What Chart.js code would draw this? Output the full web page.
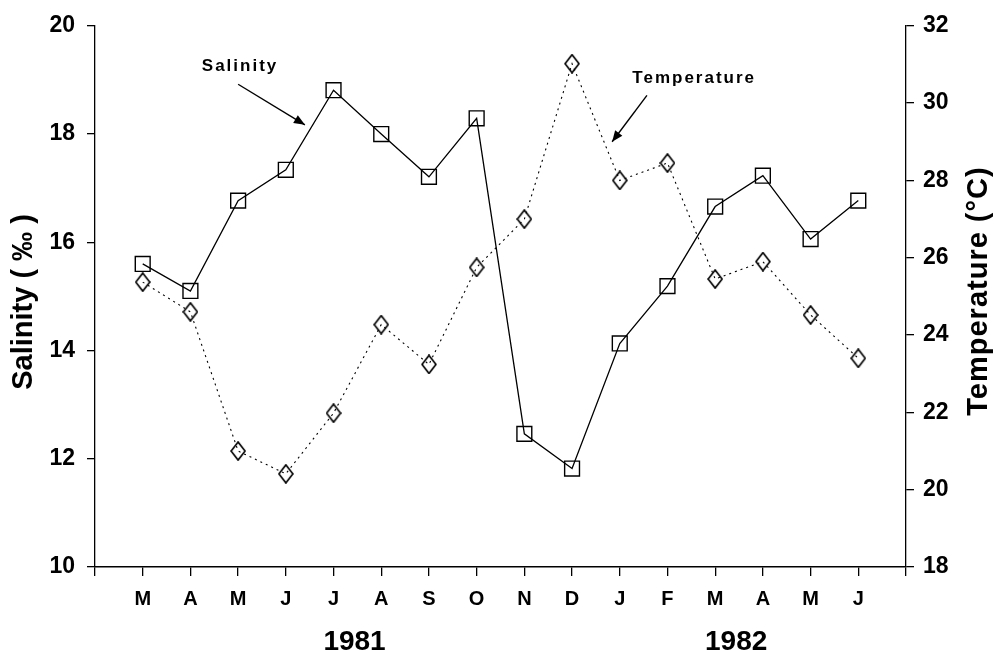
<!DOCTYPE html>
<html>
<head>
<meta charset="utf-8">
<script src="https://cdn.jsdelivr.net/npm/chart.js@4.4.1/dist/chart.umd.min.js"></script>
<style>
  html, body { margin: 0; padding: 0; background: #fff; }
  #wrap { width: 994px; height: 650px; }
</style>
</head>
<body>
<div id="wrap"><canvas id="c" width="994" height="650"></canvas></div>
<script>
// Monthly observations, March 1981 - June 1982
const months = ['M','A','M','J','J','A','S','O','N','D','J','F','M','A','M','J'];
const salinity = [15.6, 15.1, 16.77, 17.34, 18.81, 18.0, 17.21, 18.29, 12.46, 11.82, 14.13, 15.19, 16.66, 17.23, 16.06, 16.77];
const temperature = [25.37, 24.6, 21.0, 20.41, 21.98, 24.27, 23.24, 25.75, 27.0, 31.02, 28.0, 28.45, 25.45, 25.9, 24.52, 23.4];
const salinityTicks = [10, 12, 14, 16, 18, 20];
const temperatureTicks = [18, 20, 22, 24, 26, 28, 30, 32];
const yearLabels = ['1981', '1982'];
const yearPositions = [5.44, 13.44];

const FONT = '"Liberation Sans", Arial, sans-serif';
Chart.defaults.font.family = FONT;
Chart.defaults.font.weight = 'bold';
Chart.defaults.color = '#000';

// Tall open diamond marker
function makeDiamond(w, h, lw) {
  const cv = document.createElement('canvas');
  cv.width = w; cv.height = h;
  const g = cv.getContext('2d');
  g.strokeStyle = '#000';
  g.lineWidth = lw;
  g.beginPath();
  g.moveTo(w / 2, 1);
  g.lineTo(w - 1, h / 2);
  g.lineTo(w / 2, h - 1);
  g.lineTo(1, h / 2);
  g.closePath();
  g.stroke();
  return cv;
}
const diamond = makeDiamond(16, 20, 1.7);

function arrow(ctx, x1, y1, x2, y2) {
  ctx.lineWidth = 1.4;
  ctx.beginPath(); ctx.moveTo(x1, y1); ctx.lineTo(x2, y2); ctx.stroke();
  const a = Math.atan2(y2 - y1, x2 - x1), L = 11, W = 4.5;
  ctx.beginPath();
  ctx.moveTo(x2, y2);
  ctx.lineTo(x2 - L * Math.cos(a) + W * Math.sin(a), y2 - L * Math.sin(a) - W * Math.cos(a));
  ctx.lineTo(x2 - L * Math.cos(a) - W * Math.sin(a), y2 - L * Math.sin(a) + W * Math.cos(a));
  ctx.closePath(); ctx.fill();
}

// Axis titles, year labels and the series call-outs
const decor = {
  id: 'decor',
  afterDraw(chart) {
    const { ctx, scales } = chart;
    const x = scales.x, ys = scales.ySal, yt = scales.yTemp;
    ctx.save();
    ctx.fillStyle = '#000';
    ctx.strokeStyle = '#000';
    ctx.textAlign = 'center';
    ctx.textBaseline = 'middle';

    ctx.font = 'bold 29px ' + FONT;
    ctx.save(); ctx.translate(24, 302); ctx.rotate(-Math.PI / 2);
    ctx.fillText('Salinity ( \u2030 )', 0, 0); ctx.restore();
    ctx.save(); ctx.translate(979, 291); ctx.rotate(-Math.PI / 2);
    ctx.letterSpacing = '1px';
    ctx.fillText('Temperature (\u00B0C)', 0, 0); ctx.restore();
    ctx.letterSpacing = '0px';

    ctx.font = 'bold 28px ' + FONT;
    ctx.textBaseline = 'alphabetic';
    yearLabels.forEach((t, i) => ctx.fillText(t, x.getPixelForValue(yearPositions[i]), 650));

    ctx.font = 'bold 17px ' + FONT;
    ctx.textBaseline = 'middle';
    ctx.letterSpacing = '2px';
    ctx.fillText('Salinity', x.getPixelForValue(3.04), ys.getPixelForValue(19.25));
    ctx.fillText('Temperature', x.getPixelForValue(12.56), yt.getPixelForValue(30.64));
    ctx.letterSpacing = '0px';
    arrow(ctx, x.getPixelForValue(3.0), ys.getPixelForValue(18.92), x.getPixelForValue(4.4), ys.getPixelForValue(18.17));
    arrow(ctx, x.getPixelForValue(11.57), yt.getPixelForValue(30.2), x.getPixelForValue(10.84), yt.getPixelForValue(29.0));
    ctx.restore();
  }
};

const axisGrid = { drawOnChartArea: false, color: '#000', lineWidth: 1.3 };

new Chart(document.getElementById('c'), {
  type: 'line',
  data: {
    datasets: [
      {
        label: 'Salinity',
        data: months.map((m, i) => ({ x: i + 1, y: salinity[i] })),
        yAxisID: 'ySal',
        borderColor: '#000',
        borderWidth: 1.3,
        tension: 0,
        pointStyle: 'rect',
        pointRadius: 10.5,
        pointBorderWidth: 1.4,
        pointBorderColor: '#000',
        pointBackgroundColor: 'rgba(0,0,0,0)'
      },
      {
        label: 'Temperature',
        data: months.map((m, i) => ({ x: i + 1, y: temperature[i] })),
        yAxisID: 'yTemp',
        borderColor: '#000',
        borderWidth: 1.1,
        borderDash: [2, 4],
        tension: 0,
        pointStyle: diamond,
        pointRadius: 10,
        pointBorderColor: '#000',
        pointBackgroundColor: 'rgba(0,0,0,0)'
      }
    ]
  },
  options: {
    responsive: false,
    animation: false,
    devicePixelRatio: 1,
    layout: { padding: { top: 22, left: 0, right: 0, bottom: 0 } },
    plugins: { legend: { display: false }, tooltip: { enabled: false } },
    scales: {
      x: {
        type: 'linear', position: 'bottom', min: 0, max: 17,
        grid: Object.assign({ tickLength: 9 }, axisGrid),
        border: { color: '#000', width: 1.6 },
        afterBuildTicks: s => { s.ticks = months.map((m, i) => ({ value: i + 1 })); s.ticks.unshift({ value: 0 }); s.ticks.push({ value: months.length + 1 }); },
        afterFit: s => { s.height = 83; },
        ticks: {
          autoSkip: false, maxRotation: 0, padding: 11,
          font: { size: 20, weight: 'bold' },
          callback: v => months[v - 1] || ''
        }
      },
      ySal: {
        type: 'linear', position: 'left', min: 10, max: 20,
        grid: Object.assign({ tickLength: 8 }, axisGrid),
        border: { color: '#000', width: 1.3 },
        afterBuildTicks: s => { s.ticks = salinityTicks.map(v => ({ value: v })); },
        afterFit: s => { s.width = 95; },
        ticks: { padding: 12, font: { size: 23, weight: 'bold' } }
      },
      yTemp: {
        type: 'linear', position: 'right', min: 18, max: 32,
        grid: Object.assign({ tickLength: 8 }, axisGrid),
        border: { color: '#000', width: 1.3 },
        afterBuildTicks: s => { s.ticks = temperatureTicks.map(v => ({ value: v })); },
        afterFit: s => { s.width = 88; },
        ticks: { padding: 9, font: { size: 23, weight: 'bold' } }
      }
    }
  },
  plugins: [decor]
});
</script>
</body>
</html>
